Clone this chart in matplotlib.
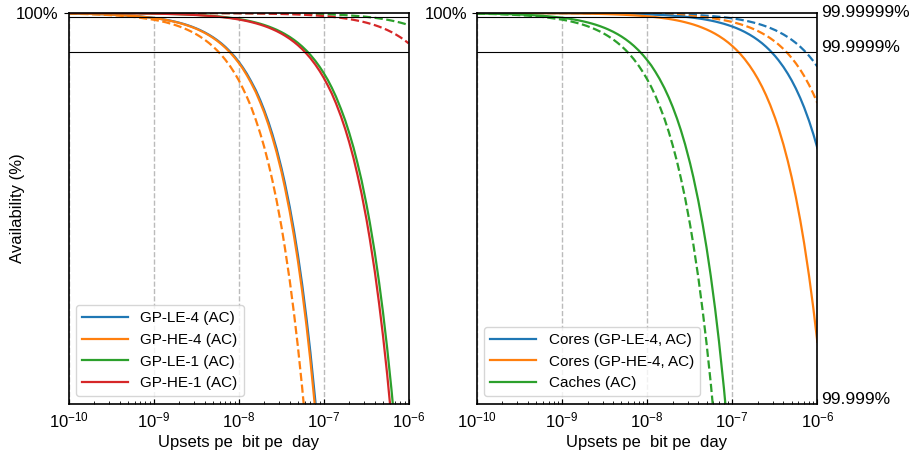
import matplotlib.pyplot as plt
import matplotlib.transforms as mtransforms

plt.rcParams['font.family'] = ['Liberation Sans', 'DejaVu Sans']
plt.rcParams['mathtext.fontset'] = 'custom'
plt.rcParams['mathtext.rm'] = 'Liberation Sans'
plt.rcParams['mathtext.default'] = 'regular'

# upset rate grid (upsets per bit per day): coarse in the first decade, fine afterwards
rate = [1e-10, 1.6e-10, 2.5e-10, 4e-10, 6.3e-10,
        1e-9, 1.12e-9, 1.25e-9, 1.4e-9, 1.6e-9, 1.8e-9, 2e-9, 2.25e-9, 2.5e-9, 2.8e-9,
        3.2e-9, 3.5e-9, 4e-9, 4.5e-9, 5e-9, 5.6e-9, 6.3e-9, 7e-9, 8e-9, 9e-9,
        1e-8, 1.12e-8, 1.25e-8, 1.4e-8, 1.6e-8, 1.8e-8, 2e-8, 2.25e-8, 2.5e-8, 2.8e-8,
        3.2e-8, 3.5e-8, 4e-8, 4.5e-8, 5e-8, 5.6e-8, 6.3e-8, 7e-8, 8e-8, 9e-8,
        1e-7, 1.12e-7, 1.25e-7, 1.4e-7, 1.6e-7, 1.8e-7, 2e-7, 2.25e-7, 2.5e-7, 2.8e-7,
        3.2e-7, 3.5e-7, 4e-7, 4.5e-7, 5e-7, 5.6e-7, 6.3e-7, 7e-7, 8e-7, 9e-7,
        1e-6]

# unavailability in ppm (1 ppm = 0.0001 %), one value per rate point
le4_ac = [0.0124, 0.0198, 0.031, 0.0496, 0.0781,
          0.124, 0.139, 0.155, 0.174, 0.198, 0.223, 0.248, 0.279, 0.31, 0.347,
          0.397, 0.434, 0.496, 0.558, 0.62, 0.694, 0.781, 0.868, 0.992, 1.116,
          1.24, 1.39, 1.55, 1.74, 1.98, 2.23, 2.48, 2.79, 3.1, 3.47,
          3.97, 4.34, 4.96, 5.58, 6.2, 6.94, 7.81, 8.68, 9.92, 11.16]
he4_ac = [0.0127, 0.0203, 0.0318, 0.0508, 0.080,
          0.127, 0.142, 0.159, 0.178, 0.203, 0.229, 0.254, 0.286, 0.318, 0.356,
          0.406, 0.445, 0.508, 0.572, 0.635, 0.711, 0.80, 0.889, 1.016, 1.143,
          1.27, 1.42, 1.59, 1.78, 2.03, 2.29, 2.54, 2.86, 3.18, 3.56,
          4.06, 4.45, 5.08, 5.72, 6.35, 7.11, 8.0, 8.89, 10.16]
he4_noac = [0.0171, 0.0274, 0.0428, 0.0684, 0.108,
            0.171, 0.192, 0.214, 0.239, 0.274, 0.308, 0.342, 0.385, 0.428, 0.479,
            0.547, 0.599, 0.684, 0.770, 0.855, 0.958, 1.077, 1.197, 1.368, 1.539,
            1.71, 1.92, 2.14, 2.39, 2.74, 3.08, 3.42, 3.85, 4.28, 4.79,
            5.47, 5.99, 6.84, 7.70, 8.55, 9.58, 10.77]
le1_ac = [0.0015, 0.0024, 0.0038, 0.0061, 0.0096,
          0.0153, 0.0171, 0.0191, 0.0214, 0.0245, 0.0275, 0.0306, 0.0344, 0.0383, 0.0428,
          0.049, 0.0536, 0.0612, 0.0689, 0.0765, 0.0857, 0.0964, 0.1071, 0.1224, 0.1377,
          0.153, 0.171, 0.191, 0.214, 0.245, 0.275, 0.306, 0.344, 0.383, 0.428,
          0.49, 0.536, 0.612, 0.689, 0.765, 0.857, 0.964, 1.071, 1.224, 1.377,
          1.53, 1.71, 1.91, 2.14, 2.45, 2.75, 3.06, 3.44, 3.83, 4.28,
          4.9, 5.36, 6.12, 6.89, 7.65, 8.57, 9.64, 10.71]
he1_ac = [0.0017, 0.0026, 0.0041, 0.0066, 0.0104,
          0.0165, 0.0185, 0.0206, 0.0231, 0.0264, 0.0297, 0.033, 0.0371, 0.0413, 0.0462,
          0.0528, 0.0578, 0.066, 0.0743, 0.0825, 0.0924, 0.104, 0.1155, 0.132, 0.1485,
          0.165, 0.185, 0.206, 0.231, 0.264, 0.297, 0.33, 0.371, 0.413, 0.462,
          0.528, 0.578, 0.66, 0.743, 0.825, 0.924, 1.04, 1.155, 1.32, 1.485,
          1.65, 1.85, 2.06, 2.31, 2.64, 2.97, 3.3, 3.71, 4.13, 4.62,
          5.28, 5.78, 6.6, 7.43, 8.25, 9.24, 10.4]
le1_noac = [0.00003, 0.00005, 0.00008, 0.00012, 0.00019,
            0.0003, 0.0003, 0.0004, 0.0004, 0.0005, 0.0006, 0.0006, 0.0007, 0.0008, 0.0009,
            0.001, 0.0011, 0.0012, 0.0014, 0.0015, 0.0017, 0.0019, 0.0021, 0.0025, 0.0028,
            0.0031, 0.0034, 0.0038, 0.0043, 0.0049, 0.0055, 0.0061, 0.0069, 0.0077, 0.0086,
            0.0098, 0.0108, 0.0123, 0.0138, 0.0154, 0.0172, 0.0193, 0.0215, 0.0246, 0.0276,
            0.0307, 0.0344, 0.0384, 0.043, 0.0491, 0.0553, 0.0614, 0.0691, 0.0768, 0.086,
            0.0982, 0.1075, 0.1228, 0.1382, 0.1535, 0.1719, 0.1934, 0.2149, 0.2456, 0.2763,
            0.307]
he1_noac = [0.0001, 0.0001, 0.0002, 0.0003, 0.0005,
            0.0008, 0.0009, 0.001, 0.0011, 0.0012, 0.0014, 0.0016, 0.0017, 0.0019, 0.0022,
            0.0025, 0.0027, 0.0031, 0.0035, 0.0039, 0.0043, 0.0049, 0.0054, 0.0062, 0.007,
            0.0078, 0.0087, 0.0097, 0.0109, 0.0124, 0.014, 0.0155, 0.0174, 0.0194, 0.0217,
            0.0248, 0.0271, 0.031, 0.0349, 0.0388, 0.0434, 0.0488, 0.0543, 0.062, 0.0698,
            0.0775, 0.0868, 0.0969, 0.1085, 0.124, 0.1395, 0.155, 0.1744, 0.1938, 0.217,
            0.248, 0.2713, 0.31, 0.3488, 0.3875, 0.434, 0.4883, 0.5425, 0.62, 0.6975,
            0.775]

cores_le4 = [0.0003, 0.0006, 0.0009, 0.0014, 0.0022,
             0.0035, 0.0039, 0.0043, 0.0048, 0.0055, 0.0062, 0.0069, 0.0078, 0.0086, 0.0097,
             0.011, 0.0121, 0.0138, 0.0155, 0.0173, 0.0193, 0.0217, 0.0242, 0.0276, 0.0311,
             0.0345, 0.0386, 0.0431, 0.0483, 0.0552, 0.0621, 0.069, 0.0776, 0.0863, 0.0966,
             0.110, 0.121, 0.138, 0.155, 0.173, 0.193, 0.217, 0.242, 0.276, 0.311,
             0.345, 0.386, 0.431, 0.483, 0.552, 0.621, 0.69, 0.776, 0.863, 0.966,
             1.104, 1.208, 1.38, 1.553, 1.725, 1.932, 2.174, 2.415, 2.76, 3.105,
             3.45]
cores_he4 = [0.0008, 0.0013, 0.0021, 0.0034, 0.0053,
             0.0084, 0.0094, 0.0105, 0.0118, 0.0135, 0.0151, 0.0168, 0.0189, 0.021, 0.0236,
             0.0269, 0.0294, 0.0336, 0.0379, 0.0421, 0.0471, 0.053, 0.0589, 0.0673, 0.0757,
             0.0841, 0.0942, 0.105, 0.118, 0.135, 0.151, 0.168, 0.189, 0.21, 0.236,
             0.269, 0.294, 0.336, 0.379, 0.421, 0.471, 0.53, 0.589, 0.673, 0.757,
             0.841, 0.942, 1.051, 1.177, 1.346, 1.514, 1.682, 1.892, 2.103, 2.355,
             2.691, 2.944, 3.364, 3.785, 4.205, 4.71, 5.298, 5.887, 6.728, 7.569,
             8.41]
cores_le4_noac = [0.0001, 0.0002, 0.0003, 0.0005, 0.0009,
                  0.0014, 0.0015, 0.0017, 0.0019, 0.0022, 0.0025, 0.0027, 0.0031, 0.0034, 0.0038,
                  0.0044, 0.0048, 0.0055, 0.0062, 0.0069, 0.0077, 0.0086, 0.0096, 0.011, 0.0123,
                  0.0137, 0.0153, 0.0171, 0.0192, 0.0219, 0.0247, 0.0274, 0.0308, 0.0343, 0.0384,
                  0.0438, 0.048, 0.0548, 0.0617, 0.0685, 0.0767, 0.0863, 0.0959, 0.1096, 0.1233,
                  0.137, 0.153, 0.171, 0.192, 0.219, 0.247, 0.274, 0.308, 0.343, 0.384,
                  0.438, 0.48, 0.548, 0.617, 0.685, 0.767, 0.863, 0.959, 1.096, 1.233,
                  1.37]
cores_he4_noac = [0.0002, 0.0004, 0.0006, 0.0009, 0.0014,
                  0.0023, 0.0026, 0.0029, 0.0032, 0.0037, 0.0041, 0.0046, 0.0052, 0.0058, 0.0064,
                  0.0074, 0.0081, 0.0092, 0.0104, 0.0115, 0.0129, 0.0145, 0.0161, 0.0184, 0.0207,
                  0.023, 0.0258, 0.0288, 0.0322, 0.0368, 0.0414, 0.046, 0.0518, 0.0575, 0.0644,
                  0.0736, 0.0805, 0.092, 0.1035, 0.115, 0.1288, 0.1449, 0.161, 0.184, 0.207,
                  0.23, 0.258, 0.288, 0.322, 0.368, 0.414, 0.46, 0.518, 0.575, 0.644,
                  0.736, 0.805, 0.92, 1.035, 1.15, 1.288, 1.449, 1.61, 1.84, 2.07,
                  2.3]
caches_ac = [0.012, 0.0192, 0.03, 0.048, 0.0756,
             0.12, 0.134, 0.15, 0.168, 0.192, 0.216, 0.24, 0.27, 0.3, 0.336,
             0.384, 0.42, 0.48, 0.54, 0.6, 0.672, 0.756, 0.84, 0.96, 1.08,
             1.2, 1.34, 1.5, 1.68, 1.92, 2.16, 2.4, 2.7, 3.0, 3.36,
             3.84, 4.2, 4.8, 5.4, 6.0, 6.72, 7.56, 8.4, 9.6, 10.8]
caches_noac = [0.0169, 0.027, 0.0423, 0.0676, 0.1065,
               0.169, 0.189, 0.211, 0.237, 0.27, 0.304, 0.338, 0.38, 0.423, 0.473,
               0.541, 0.592, 0.676, 0.761, 0.845, 0.946, 1.065, 1.183, 1.352, 1.521,
               1.69, 1.89, 2.11, 2.37, 2.7, 3.04, 3.38, 3.8, 4.23, 4.73,
               5.41, 5.92, 6.76, 7.61, 8.45, 9.46, 10.65]

ref_levels = [0.1, 1.0, 10.0]
ref_labels = ['99.99999%', '99.9999%', '99.999%']

C = ['#1f77b4', '#ff7f0e', '#2ca02c', '#d62728']


def line(ax, vals, color, ls='-', label=None):
    ax.plot(rate[:len(vals)], vals, color=color, ls=ls, lw=1.6, label=label)


def style(ax):
    ax.set_xscale('log')
    ax.set_xlim(1e-10, 1e-6)
    ax.set_ylim(10, 0)
    ax.set_yticks([0])
    ax.set_yticklabels(['100%'])
    ax.axhline(0.1, color='k', lw=0.8)
    ax.axhline(1.0, color='k', lw=0.8)
    ax.grid(axis='x', which='major', ls='--', color='#bbbbbb', lw=1)
    ax.tick_params(axis='x', which='both', direction='in', labelsize=12, pad=5)
    ax.tick_params(axis='y', labelsize=12)
    ax.set_xlabel('Upsets pe  bit pe  day', fontsize=12, labelpad=3)
    for s in ax.spines.values():
        s.set_linewidth(1.2)


fig = plt.figure(figsize=(9.2, 4.61), dpi=100)
ax1 = fig.add_axes([0.0745, 0.1236, 0.3696, 0.8482])
ax2 = fig.add_axes([0.5182, 0.1236, 0.3702, 0.8482])

line(ax1, le4_ac, C[0], label='GP-LE-4 (AC)')
line(ax1, he4_noac, C[1], '--')
line(ax1, he4_ac, C[1], label='GP-HE-4 (AC)')
line(ax1, le1_noac, C[2], '--')
line(ax1, he1_noac, C[3], '--')
line(ax1, le1_ac, C[2], label='GP-LE-1 (AC)')
line(ax1, he1_ac, C[3], label='GP-HE-1 (AC)')
style(ax1)
ax1.set_ylabel('Availability (%)', fontsize=12, labelpad=-6)
ax1.legend(loc='lower left', fontsize=11, handlelength=3)

line(ax2, cores_le4_noac, C[0], '--')
line(ax2, cores_he4_noac, C[1], '--')
line(ax2, caches_noac, C[2], '--')
line(ax2, cores_le4, C[0], label='Cores (GP-LE-4, AC)')
line(ax2, cores_he4, C[1], label='Cores (GP-HE-4, AC)')
line(ax2, caches_ac, C[2], label='Caches (AC)')
style(ax2)
ax2.legend(loc='lower left', fontsize=11, handlelength=3)

trans = mtransforms.blended_transform_factory(ax2.transAxes, ax2.transData)
for lv, lab in zip(ref_levels, ref_labels):
    ax2.text(1.01, lv, lab, transform=trans, va='baseline', ha='left', fontsize=12.5)

fig.savefig('out.png', dpi=100)
